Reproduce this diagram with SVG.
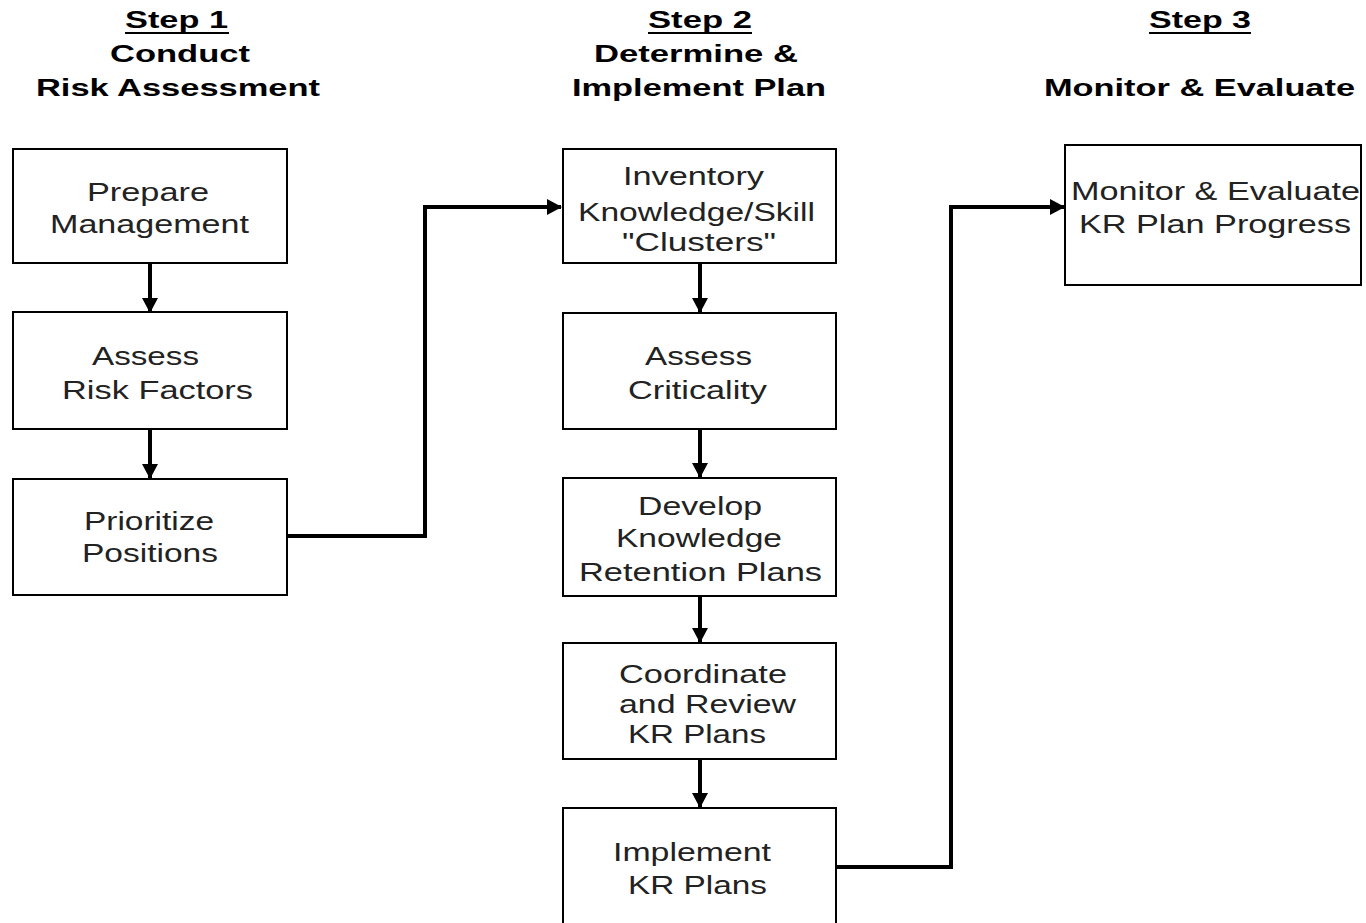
<svg xmlns="http://www.w3.org/2000/svg" width="1366" height="923" viewBox="0 0 1366 923">
  <defs>
    <style>
      .box { fill: #ffffff; stroke: #000000; stroke-width: 2; }
      .lbl { font-family: "Liberation Sans", Arial, sans-serif; font-size: 25px; fill: #222222; }
      .hd { font-family: "Liberation Sans", Arial, sans-serif; font-size: 23px; font-weight: bold; fill: #000000; }
      .ul { stroke: #000000; stroke-width: 2; }
      .link { fill: none; stroke: #000000; stroke-width: 4; }
    </style>
    <marker id="arrow" markerWidth="16" markerHeight="16" refX="14" refY="8" orient="auto" markerUnits="userSpaceOnUse">
      <path d="M0,0 L15,8 L0,16 Z" fill="#000000"/>
    </marker>
  </defs>

  <rect width="1366" height="923" fill="#ffffff"/>

  <!-- column headings -->
  <g id="heading-step1">
    <text class="hd" x="125" y="28" textLength="103" lengthAdjust="spacingAndGlyphs">Step 1</text>
    <line class="ul" x1="125" y1="33" x2="229" y2="33"/>
    <text class="hd" x="110" y="62" textLength="140" lengthAdjust="spacingAndGlyphs">Conduct</text>
    <text class="hd" x="36" y="96" textLength="284" lengthAdjust="spacingAndGlyphs">Risk Assessment</text>
  </g>
  <g id="heading-step2">
    <text class="hd" x="648" y="28" textLength="104" lengthAdjust="spacingAndGlyphs">Step 2</text>
    <line class="ul" x1="648" y1="33" x2="752" y2="33"/>
    <text class="hd" x="594" y="62" textLength="204" lengthAdjust="spacingAndGlyphs">Determine &amp;</text>
    <text class="hd" x="572" y="96" textLength="254" lengthAdjust="spacingAndGlyphs">Implement Plan</text>
  </g>
  <g id="heading-step3">
    <text class="hd" x="1149" y="28" textLength="102" lengthAdjust="spacingAndGlyphs">Step 3</text>
    <line class="ul" x1="1149" y1="33" x2="1251" y2="33"/>
    <text class="hd" x="1044" y="96" textLength="311" lengthAdjust="spacingAndGlyphs">Monitor &amp; Evaluate</text>
  </g>

  <!-- connectors -->
  <g id="connectors">
    <line class="link" x1="150" y1="263" x2="150" y2="312" marker-end="url(#arrow)"/>
    <line class="link" x1="150" y1="429" x2="150" y2="478" marker-end="url(#arrow)"/>
    <polyline class="link" points="287,536 425,536 425,207 561,207" marker-end="url(#arrow)"/>
    <line class="link" x1="700" y1="263" x2="700" y2="312" marker-end="url(#arrow)"/>
    <line class="link" x1="700" y1="429" x2="700" y2="477" marker-end="url(#arrow)"/>
    <line class="link" x1="700" y1="596" x2="700" y2="642" marker-end="url(#arrow)"/>
    <line class="link" x1="700" y1="759" x2="700" y2="807" marker-end="url(#arrow)"/>
    <polyline class="link" points="836,867 951,867 951,207 1064,207" marker-end="url(#arrow)"/>
  </g>

  <!-- step 1 nodes -->
  <g id="prepare-management">
    <rect class="box" x="13" y="149" width="274" height="114"/>
    <text class="lbl" x="87" y="201" textLength="122" lengthAdjust="spacingAndGlyphs">Prepare</text>
    <text class="lbl" x="50" y="233" textLength="199" lengthAdjust="spacingAndGlyphs">Management</text>
  </g>
  <g id="assess-risk-factors">
    <rect class="box" x="13" y="312" width="274" height="117"/>
    <text class="lbl" x="92" y="365" textLength="107" lengthAdjust="spacingAndGlyphs">Assess</text>
    <text class="lbl" x="62" y="399" textLength="191" lengthAdjust="spacingAndGlyphs">Risk Factors</text>
  </g>
  <g id="prioritize-positions">
    <rect class="box" x="13" y="479" width="274" height="116"/>
    <text class="lbl" x="84" y="530" textLength="130" lengthAdjust="spacingAndGlyphs">Prioritize</text>
    <text class="lbl" x="82" y="562" textLength="136" lengthAdjust="spacingAndGlyphs">Positions</text>
  </g>

  <!-- step 2 nodes -->
  <g id="inventory-clusters">
    <rect class="box" x="563" y="149" width="273" height="114"/>
    <text class="lbl" x="623" y="185" textLength="141" lengthAdjust="spacingAndGlyphs">Inventory</text>
    <text class="lbl" x="578" y="221" textLength="237" lengthAdjust="spacingAndGlyphs">Knowledge/Skill</text>
    <text class="lbl" x="622" y="251" textLength="154" lengthAdjust="spacingAndGlyphs">"Clusters"</text>
  </g>
  <g id="assess-criticality">
    <rect class="box" x="563" y="313" width="273" height="116"/>
    <text class="lbl" x="645" y="365" textLength="107" lengthAdjust="spacingAndGlyphs">Assess</text>
    <text class="lbl" x="628" y="399" textLength="139" lengthAdjust="spacingAndGlyphs">Criticality</text>
  </g>
  <g id="develop-retention-plans">
    <rect class="box" x="563" y="478" width="273" height="118"/>
    <text class="lbl" x="638" y="515" textLength="124" lengthAdjust="spacingAndGlyphs">Develop</text>
    <text class="lbl" x="616" y="547" textLength="166" lengthAdjust="spacingAndGlyphs">Knowledge</text>
    <text class="lbl" x="579" y="581" textLength="243" lengthAdjust="spacingAndGlyphs">Retention Plans</text>
  </g>
  <g id="coordinate-review">
    <rect class="box" x="563" y="643" width="273" height="116"/>
    <text class="lbl" x="619" y="683" textLength="168" lengthAdjust="spacingAndGlyphs">Coordinate</text>
    <text class="lbl" x="619" y="713" textLength="177" lengthAdjust="spacingAndGlyphs">and Review</text>
    <text class="lbl" x="628" y="743" textLength="138" lengthAdjust="spacingAndGlyphs">KR Plans</text>
  </g>
  <g id="implement-plans">
    <rect class="box" x="563" y="808" width="273" height="130"/>
    <text class="lbl" x="613" y="861" textLength="158" lengthAdjust="spacingAndGlyphs">Implement</text>
    <text class="lbl" x="628" y="894" textLength="139" lengthAdjust="spacingAndGlyphs">KR Plans</text>
  </g>

  <!-- step 3 node -->
  <g id="monitor-evaluate">
    <rect class="box" x="1065" y="145" width="296" height="140"/>
    <text class="lbl" x="1071" y="200" textLength="289" lengthAdjust="spacingAndGlyphs">Monitor &amp; Evaluate</text>
    <text class="lbl" x="1079" y="233" textLength="272" lengthAdjust="spacingAndGlyphs">KR Plan Progress</text>
  </g>
</svg>
